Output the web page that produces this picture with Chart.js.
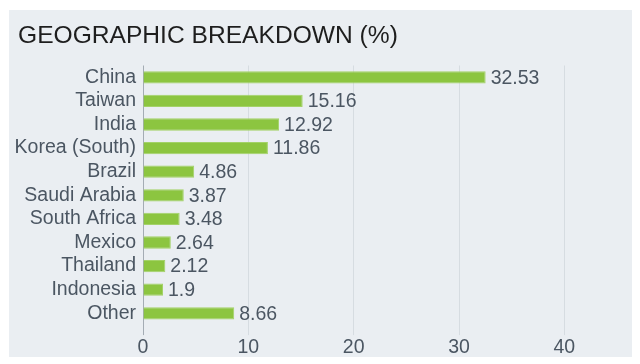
<!DOCTYPE html>
<html>
<head>
<meta charset="utf-8">
<script src="https://cdn.jsdelivr.net/npm/chart.js@4"></script>
<style>
  html, body { margin: 0; padding: 0; background: #ffffff; }
  #wrap { position: absolute; left: 0; top: 0; width: 640px; height: 364px; }
</style>
</head>
<body>
<div id="wrap"><canvas id="c" width="640" height="364"></canvas></div>
<script>
const titleText = 'GEOGRAPHIC BREAKDOWN (%)';
const categories = ['China', 'Taiwan', 'India', 'Korea (South)', 'Brazil', 'Saudi Arabia', 'South Africa', 'Mexico', 'Thailand', 'Indonesia', 'Other'];
const values = [32.53, 15.16, 12.92, 11.86, 4.86, 3.87, 3.48, 2.64, 2.12, 1.9, 8.66];
const valueLabels = ['32.53', '15.16', '12.92', '11.86', '4.86', '3.87', '3.48', '2.64', '2.12', '1.9', '8.66'];
const xTicks = [0, 10, 20, 30, 40];

const FONT = '"Liberation Sans", Arial, sans-serif';
const TEXT = '#4b5662';

const panelPlugin = {
  id: 'panel',
  beforeDraw(chart) {
    const ctx = chart.ctx;
    ctx.save();
    ctx.fillStyle = '#eaeef2';
    ctx.fillRect(9, 10, 623, 347);
    ctx.font = '24.6px ' + FONT;
    ctx.fillStyle = '#1e1e1e';
    ctx.textAlign = 'left';
    ctx.textBaseline = 'middle';
    ctx.fillText(titleText, 18, 36);
    ctx.restore();
  }
};

const valuePlugin = {
  id: 'values',
  afterDatasetsDraw(chart) {
    const ctx = chart.ctx;
    const meta = chart.getDatasetMeta(0);
    ctx.save();
    ctx.font = '19.5px ' + FONT;
    ctx.fillStyle = TEXT;
    ctx.textAlign = 'left';
    ctx.textBaseline = 'middle';
    meta.data.forEach((bar, i) => {
      ctx.fillText(valueLabels[i], bar.x + 5, bar.y + 1);
    });
    ctx.restore();
  }
};

new Chart(document.getElementById('c'), {
  type: 'bar',
  data: {
    labels: categories,
    datasets: [{
      data: values,
      backgroundColor: '#8cc540',
      borderColor: '#a3d268',
      borderWidth: 1,
      categoryPercentage: 1,
      barPercentage: 0.52
    }]
  },
  options: {
    indexAxis: 'y',
    responsive: false,
    animation: false,
    events: [],
    layout: { padding: { left: 9, right: 23, top: 65.5, bottom: 3.5 } },
    plugins: {
      legend: { display: false },
      tooltip: { enabled: false },
      title: { display: false }
    },
    scales: {
      x: {
        type: 'linear',
        min: 0,
        max: 45,
        afterBuildTicks(scale) {
          scale.ticks = xTicks.map(v => ({ value: v }));
        },
        grid: {
          color: (c) => (c.tick && c.tick.value === 0) ? '#a4acb4' : '#d6dce1',
          lineWidth: 1,
          drawTicks: true,
          tickLength: 10
        },
        border: { display: false },
        ticks: {
          color: TEXT,
          font: { family: FONT, size: 19.5 },
          padding: 1,
          maxRotation: 0
        }
      },
      y: {
        grid: { display: false, drawTicks: false },
        border: { display: false },
        afterFit(scale) { scale.width = 134; },
        ticks: {
          color: TEXT,
          font: { family: FONT, size: 19.5 },
          padding: 7,
          autoSkip: false
        }
      }
    }
  },
  plugins: [panelPlugin, valuePlugin]
});
</script>
</body>
</html>
